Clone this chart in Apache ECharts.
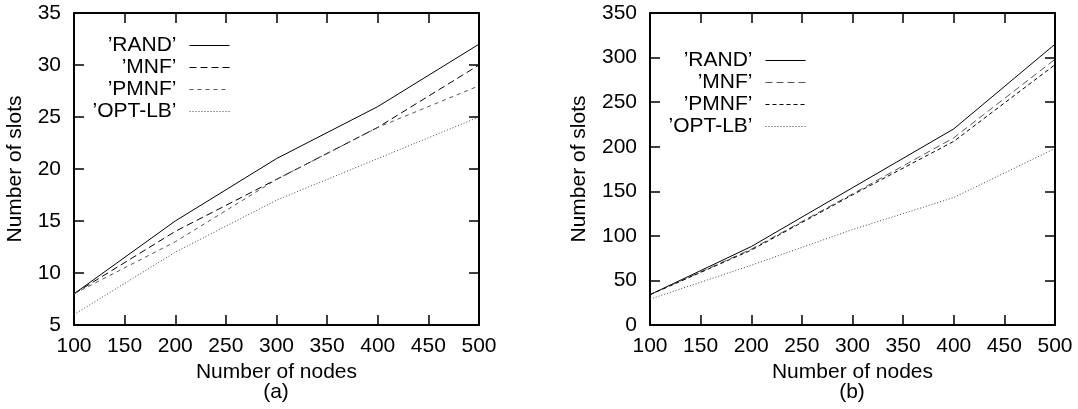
<!DOCTYPE html>
<html>
<head>
<meta charset="utf-8">
<script src="https://cdn.jsdelivr.net/npm/echarts@6/dist/echarts.min.js"></script>
<style>
html,body{margin:0;padding:0;background:#fff;}
#chart{width:1078px;height:409px;}
</style>
</head>
<body>
<div id="chart"></div>
<script>
// ---- data ----
const xNodes = [100, 200, 300, 400, 500];
const seriesNames = ['RAND', 'MNF', 'PMNF', 'OPT-LB'];
// (a)
const aRAND  = [8, 15, 21, 26, 32];
const aMNF   = [8, 14, 19, 24, 30];
const aPMNF  = [8, 13, 19, 24, 28];
const aOPTLB = [6, 12, 17, 21, 25];
// (b)
const bRAND  = [34, 88, 154, 220, 315];
const bMNF   = [34, 85, 147, 210, 298];
const bPMNF  = [34, 84, 146, 206, 292];
const bOPTLB = [29, 67, 107, 143, 198];
const panelLabels = ['(a)', '(b)'];
const xTitle = 'Number of nodes';
const yTitle = 'Number of slots';

const FONT = '"Liberation Sans", Arial, Helvetica, sans-serif';
const FS = 21;

function pts(arr) { return xNodes.map((x, i) => [x, arr[i]]); }

const styles = {
  a: [
    {color: '#000', type: 'solid'},
    {color: '#000', type: [7, 4]},
    {color: '#555', type: [4, 4]},
    {color: '#444', type: [1, 2]}
  ],
  b: [
    {color: '#000', type: 'solid'},
    {color: '#555', type: [7, 4]},
    {color: '#000', type: [4, 3]},
    {color: '#444', type: [1, 2]}
  ]
};

const grids = [
  {left: 74, top: 13, width: 405, height: 312},
  {left: 650, top: 13, width: 405, height: 312}
];

function xAx(gi, pos) {
  const main = pos === 'bottom';
  return {
    type: 'value', gridIndex: gi, position: pos, min: 100, max: 500, interval: 50,
    name: main ? xTitle : '', nameLocation: 'middle', nameGap: 36,
    nameTextStyle: {fontFamily: FONT, fontSize: FS, color: '#000'},
    axisLine: {show: true, onZero: false, lineStyle: {color: '#000', width: 2}},
    axisTick: {show: true, inside: true, length: 10, lineStyle: {color: '#000', width: 1.5}},
    axisLabel: {show: main, fontFamily: FONT, fontSize: FS, color: '#000', margin: 11},
    splitLine: {show: false}
  };
}
function yAx(gi, pos, min, max, interval, gap) {
  const main = pos === 'left';
  return {
    type: 'value', gridIndex: gi, position: pos, min: min, max: max, interval: interval,
    name: main ? yTitle : '', nameLocation: 'middle', nameGap: gap, nameRotate: 90,
    nameTextStyle: {fontFamily: FONT, fontSize: FS, color: '#000'},
    axisLine: {show: true, onZero: false, lineStyle: {color: '#000', width: 2}},
    axisTick: {show: true, inside: true, length: 10, lineStyle: {color: '#000', width: 1.5}},
    axisLabel: {show: main, fontFamily: FONT, fontSize: FS, color: '#000', margin: 13},
    splitLine: {show: false}
  };
}

const series = [];
const dataA = [aRAND, aMNF, aPMNF, aOPTLB];
const dataB = [bRAND, bMNF, bPMNF, bOPTLB];
seriesNames.forEach((n, i) => {
  series.push({
    name: 'a:' + n, type: 'line', xAxisIndex: 0, yAxisIndex: 0,
    data: pts(dataA[i]), symbol: 'none', animation: false,
    lineStyle: {color: styles.a[i].color, width: 1, type: styles.a[i].type},
    itemStyle: {color: styles.a[i].color}
  });
});
seriesNames.forEach((n, i) => {
  series.push({
    name: 'b:' + n, type: 'line', xAxisIndex: 2, yAxisIndex: 2,
    data: pts(dataB[i]), symbol: 'none', animation: false,
    lineStyle: {color: styles.b[i].color, width: 1, type: styles.b[i].type},
    itemStyle: {color: styles.b[i].color}
  });
});

function legend(prefix, right, top, gap) {
  return {
    orient: 'vertical', align: 'right', right: right, top: top, padding: 0,
    itemGap: gap, itemWidth: 40, itemHeight: 14,
    data: seriesNames.map(n => prefix + n),
    formatter: name => '\u2019' + name.slice(2) + '\u2019',
    textStyle: {fontFamily: FONT, fontSize: FS, color: '#000', padding: [0, 8, 0, 0]},
    itemStyle: {opacity: 0, borderWidth: 0},
    lineStyle: {width: 1},
    selectedMode: false
  };
}

const chart = echarts.init(document.getElementById('chart'), null, {renderer: 'canvas'});
chart.setOption({
  backgroundColor: '#fff',
  animation: false,
  grid: grids,
  title: [
    {text: panelLabels[0], left: 276, top: 382, textAlign: 'center', padding: 0,
     textStyle: {fontFamily: FONT, fontSize: FS, fontWeight: 'normal', color: '#000'}},
    {text: panelLabels[1], left: 852, top: 382, textAlign: 'center', padding: 0,
     textStyle: {fontFamily: FONT, fontSize: FS, fontWeight: 'normal', color: '#000'}}
  ],
  legend: [legend('a:', 848, 35, 1), legend('b:', 272, 50, 1)],
  xAxis: [xAx(0, 'bottom'), xAx(0, 'top'), xAx(1, 'bottom'), xAx(1, 'top')],
  yAxis: [yAx(0, 'left', 5, 35, 5, 48), yAx(0, 'right', 5, 35, 5, 0),
          yAx(1, 'left', 0, 350, 50, 60), yAx(1, 'right', 0, 350, 50, 0)],
  series: series
});
</script>
</body>
</html>
